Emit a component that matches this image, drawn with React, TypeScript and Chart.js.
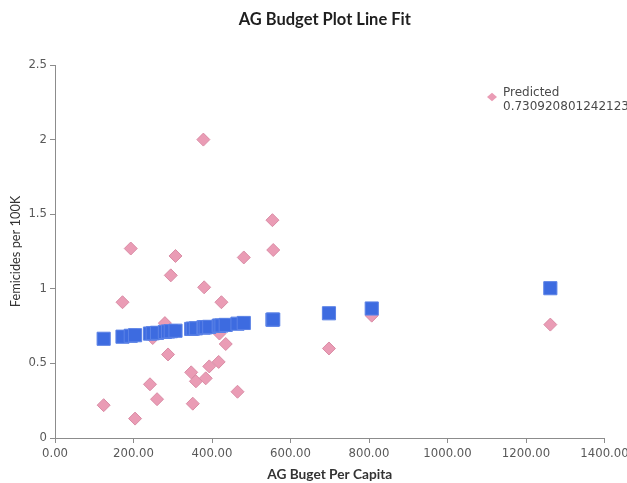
import { useEffect, useRef } from "react";
import { Chart, registerables } from "chart.js";

Chart.register(...registerables);

const chartTitle = "AG Budget Plot Line Fit";
const xAxisTitle = "AG Buget Per Capita";
const yAxisTitle = "Femicides per 100K";
const legendLines = ["Predicted", "0.730920801242123"];

const budgetPerCapita = [
  124, 172, 193, 204, 242, 249, 260, 280, 288, 295, 307, 347, 351, 359, 378,
  380, 384, 393, 417, 419, 424, 435, 465, 481, 554, 556, 698, 807, 1262,
];
const femicides = [
  0.22, 0.91, 1.27, 0.13, 0.36, 0.67, 0.26, 0.77, 0.56, 1.09, 1.22, 0.44, 0.23,
  0.38, 2.0, 1.01, 0.4, 0.48, 0.51, 0.7, 0.91, 0.63, 0.31, 1.21, 1.46, 1.26,
  0.6, 0.82, 0.76,
];
const predicted = [
  0.665, 0.679, 0.685, 0.689, 0.7, 0.702, 0.705, 0.711, 0.714, 0.716, 0.719,
  0.731, 0.733, 0.735, 0.741, 0.741, 0.742, 0.745, 0.752, 0.753, 0.754, 0.758,
  0.766, 0.771, 0.793, 0.794, 0.836, 0.868, 1.004,
];

const xMin = 0;
const xMax = 1400;
const xStep = 200;
const yMin = 0;
const yMax = 2.5;
const yStep = 0.5;

const PINK = "#EA9CB5";
const PINK_EDGE = "#D98CA5";
const BLUE = "#3D6BE0";
const BLUE_EDGE = "#5B82E6";
const AXIS = "#8C8C8C";
const TICK_TEXT = "#595959";

export default function App() {
  const ref = useRef<HTMLCanvasElement>(null);

  useEffect(() => {
    document.body.style.margin = "0";
    const canvas = ref.current;
    if (!canvas) return;

    const actual = budgetPerCapita.map((x, i) => ({ x, y: femicides[i] }));
    const fit = budgetPerCapita.map((x, i) => ({ x, y: predicted[i] }));

    const overlay = {
      id: "overlay",
      afterDraw(chart: any) {
        const { ctx, chartArea } = chart;
        ctx.save();
        // title
        ctx.font = "bold 16.5px Lato";
        ctx.fillStyle = "#1E1E1E";
        ctx.textAlign = "center";
        ctx.textBaseline = "alphabetic";
        ctx.fillText(chartTitle, (chartArea.left + chartArea.right) / 2 - 5, 25);
        // legend (overlaid on plot, as in original)
        const mx = 492;
        const my = 97;
        const r = 5;
        ctx.beginPath();
        ctx.moveTo(mx - r, my);
        ctx.lineTo(mx, my - r * 0.85);
        ctx.lineTo(mx + r, my);
        ctx.lineTo(mx, my + r * 0.85);
        ctx.closePath();
        ctx.fillStyle = PINK;
        ctx.fill();
        ctx.font = "12px 'DejaVu Sans'";
        ctx.fillStyle = "#4A4A4A";
        ctx.textAlign = "left";
        ctx.fillText(legendLines[0], 503, 96);
        ctx.fillText(legendLines[1], 503, 110);
        ctx.restore();
      },
    };

    const chart = new Chart(canvas, {
      type: "scatter",
      data: {
        datasets: [
          {
            label: "Actual",
            data: actual,
            order: 1,
            pointStyle: "rectRot",
            pointRadius: 6.5,
            pointHoverRadius: 6.5,
            backgroundColor: PINK,
            borderColor: PINK_EDGE,
            borderWidth: 1,
          },
          {
            label: legendLines.join(" "),
            data: fit,
            order: 0,
            pointStyle: "rect",
            pointRadius: 9.3,
            pointHoverRadius: 9.3,
            backgroundColor: BLUE,
            borderColor: BLUE_EDGE,
            borderWidth: 1,
          },
        ],
      },
      options: {
        responsive: false,
        animation: false,
        devicePixelRatio: 1,
        layout: { padding: { top: 65, right: 22.5, bottom: 0, left: 0 } },
        plugins: {
          legend: { display: false },
          title: { display: false },
          tooltip: { enabled: false },
        },
        scales: {
          x: {
            type: "linear",
            min: xMin,
            max: xMax,
            afterFit(scale: any) {
              scale.height = 45;
              scale.paddingLeft = 0;
              scale.paddingRight = 0;
            },
            ticks: {
              stepSize: xStep,
              padding: 4,
              color: TICK_TEXT,
              font: { family: "'DejaVu Sans'", size: 11.7 },
              callback: (v: any) => Number(v).toFixed(2),
              maxRotation: 0,
            },
            grid: {
              drawOnChartArea: false,
              drawTicks: true,
              tickLength: 5,
              color: AXIS,
            },
            border: { display: true, color: AXIS, width: 1 },
            title: {
              display: true,
              text: xAxisTitle,
              color: "#333333",
              font: { family: "Lato", size: 13.7, weight: "bold" },
              padding: { top: 0, bottom: 0 },
            },
          },
          y: {
            type: "linear",
            min: yMin,
            max: yMax,
            afterFit(scale: any) {
              scale.width = 55;
              scale.paddingTop = 0;
              scale.paddingBottom = 0;
            },
            ticks: {
              stepSize: yStep,
              padding: 3,
              color: TICK_TEXT,
              font: { family: "'DejaVu Sans'", size: 11.7 },
              callback: (v: any) => String(Number(v)),
            },
            grid: {
              drawOnChartArea: false,
              drawTicks: true,
              tickLength: 5,
              color: AXIS,
            },
            border: { display: true, color: AXIS, width: 1 },
            title: {
              display: true,
              text: yAxisTitle,
              color: "#333333",
              font: { family: "Lato", size: 12.8 },
              padding: { top: 8, bottom: 0 },
            },
          },
        },
      },
      plugins: [overlay],
    });

    return () => chart.destroy();
  }, []);

  return (
    <canvas
      ref={ref}
      width={627}
      height={483}
      style={{ display: "block", width: 627, height: 483 }}
    />
  );
}
